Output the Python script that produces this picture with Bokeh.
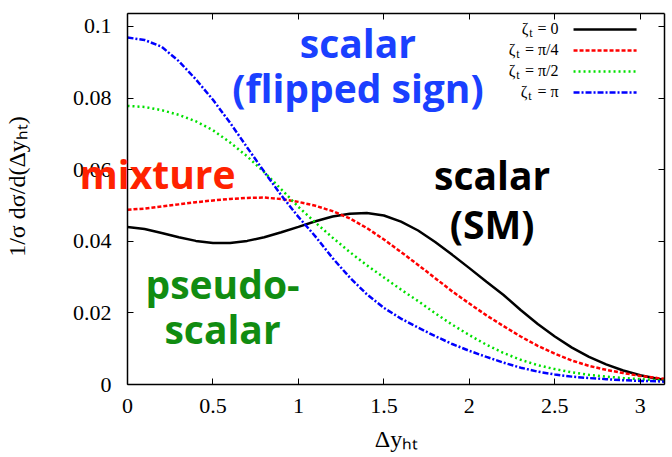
import numpy as np
from bokeh.plotting import figure
from bokeh.models import Range1d, LinearAxis, FixedTicker, PrintfTickFormatter, Label
from bokeh.embed import file_html
from bokeh.resources import INLINE

# ---------------- data ----------------
dy_ht = [0.0, 0.1, 0.2, 0.3, 0.4, 0.5, 0.6, 0.7, 0.8, 0.9, 1.0, 1.1, 1.2, 1.3, 1.4, 1.5,
         1.6, 1.7, 1.8, 1.9, 2.0, 2.1, 2.2, 2.3, 2.4, 2.5, 2.6, 2.7, 2.8, 2.9, 3.0, 3.1, 3.14159]

zeta_0 = [0.0440, 0.0434, 0.0423, 0.0411, 0.0401, 0.0395, 0.0395, 0.0401, 0.0411, 0.0425,
          0.0440, 0.0456, 0.0469, 0.0477, 0.0479, 0.0472, 0.0455, 0.0430, 0.0398, 0.0362,
          0.0325, 0.0287, 0.0250, 0.0208, 0.0169, 0.0134, 0.0103, 0.0077, 0.0056, 0.0039,
          0.0026, 0.0016, 0.0013]

zeta_pi4 = [0.0488, 0.0491, 0.0497, 0.0503, 0.0509, 0.0514, 0.0518, 0.0521, 0.0522, 0.0518,
            0.0510, 0.0499, 0.0484, 0.0464, 0.0437, 0.0405, 0.0370, 0.0334, 0.0297, 0.0260,
            0.0226, 0.0193, 0.0163, 0.0134, 0.0108, 0.0086, 0.0067, 0.0052, 0.0041, 0.0032,
            0.0024, 0.0018, 0.0016]

zeta_pi2 = [0.0778, 0.0775, 0.0766, 0.0753, 0.0735, 0.0710, 0.0676, 0.0637, 0.0593, 0.0545,
            0.0496, 0.0452, 0.0410, 0.0370, 0.0333, 0.0299, 0.0265, 0.0233, 0.0199, 0.0167,
            0.0138, 0.0111, 0.0088, 0.0069, 0.0054, 0.0043, 0.0034, 0.0027, 0.0022, 0.0018,
            0.0015, 0.0012, 0.0011]

zeta_pi = [0.0969, 0.0962, 0.0943, 0.0903, 0.0852, 0.0795, 0.0731, 0.0662, 0.0594, 0.0528,
           0.0468, 0.0413, 0.0353, 0.0299, 0.0252, 0.0214, 0.0184, 0.0159, 0.0135, 0.0113,
           0.0094, 0.0077, 0.0061, 0.0047, 0.0036, 0.0028, 0.0022, 0.0018, 0.0015, 0.0012,
           0.0010, 0.0009, 0.0008]

x_ticks = [0, 0.5, 1, 1.5, 2, 2.5, 3]
y_ticks = [0, 0.02, 0.04, 0.06, 0.08, 0.1]
legend_values = ["0", "π/4", "π/2", "π"]

X_MAX = np.pi
Y_MAX = 0.1036

SERIF = "Liberation Serif"
SANS = "Open Sans"

# ---------------- layout: plot box inside a full-canvas frame ----------------
W, H = 672, 457
BOX_L, BOX_R, BOX_T, BOX_B = 127, 664, 13, 384
sx = (BOX_R - BOX_L) / X_MAX
sy = (BOX_B - BOX_T) / Y_MAX
x_range = Range1d(-BOX_L / sx, X_MAX + (W - BOX_R) / sx)
y_range = Range1d(-(H - BOX_B) / sy, Y_MAX + BOX_T / sy)

p = figure(width=W, height=H, x_range=x_range, y_range=y_range, title=None,
           output_backend="svg", toolbar_location=None,
           min_border_left=0, min_border_right=0, min_border_top=0, min_border_bottom=0)
p.grid.visible = False
p.outline_line_color = None
p.background_fill_color = "white"
p.border_fill_color = "white"


def style_axis(ax, show_labels=True):
    ax.axis_line_color = "black"
    ax.axis_line_width = 1.5
    ax.major_tick_in = 6
    ax.major_tick_out = 0
    ax.major_tick_line_color = "black"
    ax.major_tick_line_width = 1
    ax.minor_tick_line_color = None
    ax.major_label_text_font = SERIF
    if show_labels:
        ax.major_label_text_color = "black"
        ax.major_label_text_font_size = "22px"
    else:
        ax.major_label_text_color = None
        ax.major_label_text_font_size = "1px"
        ax.major_label_standoff = 0


xa = p.xaxis[0]
ya = p.yaxis[0]
xa.ticker = FixedTicker(ticks=x_ticks)
ya.ticker = FixedTicker(ticks=y_ticks)
xa.formatter = PrintfTickFormatter(format="%g")
ya.formatter = PrintfTickFormatter(format="%g")
style_axis(xa)
style_axis(ya)
xa.major_label_standoff = 14
ya.major_label_standoff = 16
xa.fixed_location = 0
xa.bounds = (0, X_MAX)
ya.fixed_location = 0
ya.bounds = (0, Y_MAX)

top_ax = LinearAxis(ticker=FixedTicker(ticks=x_ticks), fixed_location=Y_MAX, bounds=(0, X_MAX))
right_ax = LinearAxis(ticker=FixedTicker(ticks=y_ticks), fixed_location=X_MAX, bounds=(0, Y_MAX))
style_axis(top_ax, False)
style_axis(right_ax, False)
p.add_layout(top_ax, "above")
p.add_layout(right_ax, "right")

# ---------------- curves ----------------
series = [
    (zeta_0, "black", None),
    (zeta_pi4, "#ff0000", "4 2"),
    (zeta_pi2, "#00e000", "2 3"),
    (zeta_pi, "#0000ff", "6 2 2 2"),
]
for vals, col, dash in series:
    kw = dict(line_color=col, line_width=2.5)
    if dash:
        kw["line_dash"] = dash
    p.line(dy_ht, vals, **kw)

# ---------------- legend (text left of sample, as in the reference) ----------------
leg_text_x = X_MAX * 0.8026
leg_line_x0 = X_MAX * 0.8306
leg_line_x1 = X_MAX * 0.948
row_fracs = [0.0430, 0.0996, 0.1562, 0.2128]
eq_widths = [22, 35, 35, 23]
for (vals, col, dash), val, frac, w in zip(series, legend_values, row_fracs, eq_widths):
    yrow = Y_MAX * (1 - frac)
    kw = dict(line_color=col, line_width=2.5)
    if dash:
        kw["line_dash"] = dash
    p.line([leg_line_x0, leg_line_x1], [yrow, yrow], **kw)
    p.add_layout(Label(x=leg_text_x, y=yrow, y_offset=1, text="= " + val, text_align="right",
                       text_baseline="middle", text_font=SERIF, text_font_size="16px",
                       text_color="black"))
    p.add_layout(Label(x=leg_text_x, y=yrow, x_offset=-(w + 4), y_offset=-4, text="t",
                       text_align="right", text_baseline="middle", text_font=SERIF,
                       text_font_size="12px", text_color="black"))
    p.add_layout(Label(x=leg_text_x, y=yrow, x_offset=-(w + 8), y_offset=1, text="ζ",
                       text_align="right", text_baseline="middle", text_font=SERIF,
                       text_font_size="16px", text_color="black"))


def canvas_label(x, y, text, size, angle=0.0, align="center", baseline="middle",
                 font=SERIF, color="black", style="normal"):
    p.add_layout(Label(x=x, y=y, x_units="canvas", y_units="canvas", text=text, angle=angle,
                       text_align=align, text_baseline=baseline, text_font=font,
                       text_font_size=size, text_color=color, text_font_style=style))


# ---------------- axis titles ----------------
canvas_label(396, 438, "Δyₕₜ", "24px")
canvas_label(16, 186, "1/σ dσ/d(Δyₕₜ)", "24px", angle=np.pi / 2)

# ---------------- big annotations ----------------
canvas_label(157, 173, "mixture", "39px", baseline="alphabetic", font=SANS,
             color="#ff2200", style="bold")
annotations = [
    ("scalar", 1.348, 0.0955, "#1a40ff"),
    ("(flipped sign)", 1.348, 0.0829, "#1a40ff"),
    ("scalar", 2.133, 0.0586, "black"),
    ("(SM)", 2.133, 0.0449, "black"),
    ("pseudo-", 0.556, 0.0281, "#118c11"),
    ("scalar", 0.556, 0.0156, "#118c11"),
]
for txt, ax_, ay_, col in annotations:
    p.add_layout(Label(x=ax_, y=ay_, text=txt, text_align="center", text_baseline="alphabetic",
                       text_font=SANS, text_font_style="bold", text_font_size="39px",
                       text_color=col))

open("out.html", "w").write(file_html(p, INLINE))
